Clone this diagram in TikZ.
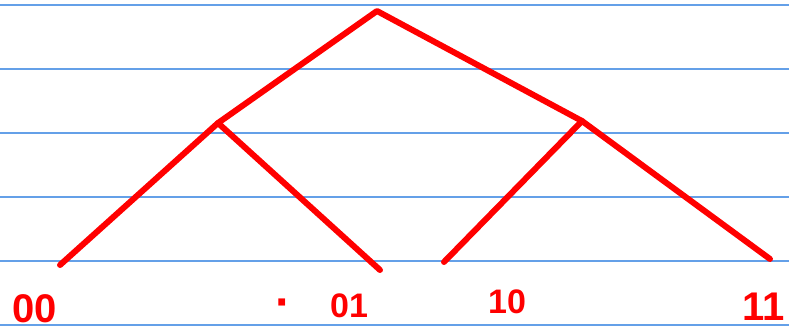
\documentclass[tikz,border=0pt]{standalone}
\usepackage{fontspec}
\setmainfont{Liberation Sans}
\begin{document}
\begin{tikzpicture}[x=1pt,y=-1pt,
  rule/.style={draw={rgb,255:red,100;green,160;blue,232},line width=1.6pt},
  branch/.style={draw={rgb,255:red,255;green,0;blue,0},line width=6pt,line cap=round,line join=round},
  lbl/.style={text={rgb,255:red,255;green,0;blue,0},inner sep=0pt,font=\fontsize{40}{40}\selectfont\bfseries}]
\useasboundingbox[fill=white] (0,0) rectangle (789,335);
\foreach \y in {5,69,133,197,261,325} \draw[rule] (0,\y) -- (789,\y);
\coordinate (root) at (377,11);
\coordinate (l) at (218,123);
\coordinate (r) at (582,121);
\coordinate (a) at (60,265);
\coordinate (b) at (380,270);
\coordinate (c) at (444,262);
\coordinate (d) at (770,259);
\draw[branch] (a) -- (l) -- (root) -- (r) -- (d);
\draw[branch] (l) -- (b);
\draw[branch] (r) -- (c);
\node[lbl] (t00) at (35,309) {00};
\node[lbl,font=\fontsize{48}{48}\selectfont\bfseries] (tdot) at (283,309) {·};
\node[lbl,font=\fontsize{34}{34}\selectfont\bfseries] (t01) at (349,306) {01};
\node[lbl,font=\fontsize{34}{34}\selectfont\bfseries] (t10) at (507,302) {10};
\node[lbl] (t11) at (764,307) {11};
\end{tikzpicture}
\end{document}
